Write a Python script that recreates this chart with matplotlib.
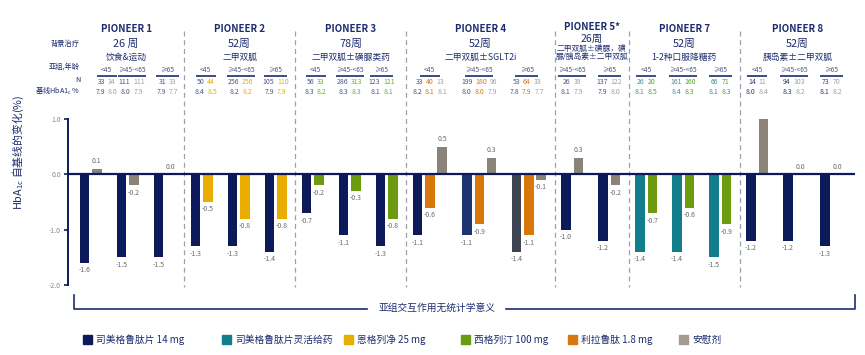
import matplotlib
matplotlib.use('Agg')
import matplotlib.pyplot as plt
from matplotlib.patches import Rectangle

plt.rcParams['font.family'] = ['Noto Sans CJK SC', 'DejaVu Sans']
plt.rcParams['mathtext.default'] = 'regular'
plt.rcParams['axes.unicode_minus'] = False

# ---------------- data ----------------
titles = ['PIONEER 1', 'PIONEER 2', 'PIONEER 3', 'PIONEER 4', 'PIONEER 5*', 'PIONEER 7', 'PIONEER 8']
weeks = ['26 周', '52周', '78周', '52周', '26周', '52周', '52周']
therapies = ['饮食&运动', '二甲双胍', '二甲双胍±磺脲类药', '二甲双胍±SGLT2i',
             '二甲双胍±磺脲，磺\n脲/胰岛素±二甲双胍', '1-2种口服降糖药', '胰岛素±二甲双胍']
ages3 = ['<45', '≥45-<65', '≥65']
ages2 = ['≥45-<65', '≥65']

p1_sema = [-1.6, -1.5, -1.5]
p1_placebo = [0.1, -0.2, 0.0]
p2_sema = [-1.3, -1.3, -1.4]
p2_empa = [-0.5, -0.8, -0.8]
p3_sema = [-0.7, -1.1, -1.3]
p3_sita = [-0.2, -0.3, -0.8]
p4_sema = [-1.1, -1.1, -1.4]
p4_lira = [-0.6, -0.9, -1.1]
p4_placebo = [0.5, 0.3, -0.1]
p5_sema = [-1.0, -1.2]
p5_placebo = [0.3, -0.2]
p7_flex = [-1.4, -1.4, -1.5]
p7_sita = [-0.7, -0.6, -0.9]
p8_sema = [-1.2, -1.2, -1.3]
p8_placebo = [1.1, 0.0, 0.0]

p1_n = [[33, 34], [111, 111], [31, 33]]
p1_base = [[7.9, 8.0], [8.0, 7.9], [7.9, 7.7]]
p2_n = [[50, 44], [256, 256], [105, 110]]
p2_base = [[8.4, 8.5], [8.2, 8.2], [7.9, 7.9]]
p3_n = [[56, 33], [286, 313], [123, 121]]
p3_base = [[8.3, 8.2], [8.3, 8.3], [8.1, 8.1]]
p4_n = [[33, 40, 13], [199, 180, 96], [53, 64, 33]]
p4_base = [[8.2, 8.1, 8.1], [8.0, 8.0, 7.9], [7.8, 7.9, 7.7]]
p5_n = [[26, 39], [137, 122]]
p5_base = [[8.1, 7.9], [7.9, 8.0]]
p7_n = [[26, 20], [161, 160], [66, 71]]
p7_base = [[8.1, 8.5], [8.4, 8.3], [8.1, 8.3]]
p8_n = [[14, 11], [94, 103], [73, 70]]
p8_base = [[8.0, 8.4], [8.3, 8.2], [8.1, 8.2]]

legend_labels = ['司美格鲁肽片 14 mg', '司美格鲁肽片灵活给药', '恩格列净 25 mg',
                 '西格列汀 100 mg', '利拉鲁肽 1.8 mg', '安慰剂']

# ---------------- styles ----------------
NAVY = '#0c1a5c'
TEAL = '#127d8b'
YELLOW = '#e8ad00'
GREEN = '#6d9b10'
ORANGE = '#d8770c'
GREY = '#8b8278'
SLATE = '#3d4452'
TXT = '#1d2c6e'
NUMGREY = '#a0a0a0'
LBL = '#6a6a6a'
legend_colors = [NAVY, TEAL, YELLOW, GREEN, ORANGE, '#a39a90']

panels = [
    dict(series=[(p1_sema, [NAVY]*3), (p1_placebo, [GREY]*3)], ages=ages3,
         n=p1_n, base=p1_base, ncol=['#4a5683', NUMGREY], hshift=[16, 4, 3]),
    dict(series=[(p2_sema, [NAVY]*3), (p2_empa, [YELLOW]*3)], ages=ages3,
         n=p2_n, base=p2_base, ncol=['#4a5683', YELLOW], hshift=[4, 2, 0]),
    dict(series=[(p3_sema, [NAVY]*3), (p3_sita, [GREEN]*3)], ages=ages3,
         n=p3_n, base=p3_base, ncol=['#4a5683', '#6fae2a'], hshift=[3, 0, -5]),
    dict(series=[(p4_sema, [NAVY, '#1b3470', SLATE]), (p4_lira, [ORANGE]*3), (p4_placebo, [GREY]*3)],
         ages=ages3, n=p4_n, base=p4_base, ncol=['#4a5683', ORANGE, NUMGREY], hshift=[0, 0, -2]),
    dict(series=[(p5_sema, [NAVY]*2), (p5_placebo, [GREY]*2)], ages=ages2,
         n=p5_n, base=p5_base, ncol=['#4a5683', NUMGREY], hshift=[0, 0]),
    dict(series=[(p7_flex, [TEAL]*3), (p7_sita, [GREEN]*3)], ages=ages3,
         n=p7_n, base=p7_base, ncol=['#4f8aa0', '#5aa02a'], hshift=[0, 0, 0]),
    dict(series=[(p8_sema, [NAVY]*3), (p8_placebo, [GREY]*3)], ages=ages3,
         n=p8_n, base=p8_base, ncol=['#2c3a70', NUMGREY], hshift=[0, 0, 0]),
]

W, H = 865, 355
fig = plt.figure(figsize=(W / 100, H / 100), dpi=100)

# overlay in pixel coordinates (y downwards)
ov = fig.add_axes([0, 0, 1, 1])
ov.set_xlim(0, W)
ov.set_ylim(H, 0)
ov.axis('off')

# chart axes: x in pixel units, y in data
X0, X1 = 68, 855
YTOP, YBOT = 119, 285
ax = fig.add_axes([X0 / W, (H - YBOT) / H, (X1 - X0) / W, (YBOT - YTOP) / H])
ax.set_xlim(X0, X1)
ax.set_ylim(-2, 1)
ax.patch.set_alpha(0)
for s in ['top', 'right', 'bottom']:
    ax.spines[s].set_visible(False)
ax.spines['left'].set_color(NAVY)
ax.spines['left'].set_linewidth(1.4)
ax.set_xticks([])
ax.set_yticks([1.0, 0.0, -1.0, -2.0])
ax.set_yticklabels(['1.0', '0.0', '-1.0', '-2.0'])
ax.tick_params(axis='y', colors=NAVY, length=3, width=1.2, labelsize=5, labelcolor='#888888', pad=2)
ax.axhline(0, color=NAVY, lw=1.6, zorder=3, xmin=0, xmax=1)

ov.text(18, 152, 'HbA$_{1c}$ 自基线的变化(%)', rotation=90, ha='center', va='center',
        fontsize=7.8, color=TXT)

renderer = fig.canvas.get_renderer()


def pieces(xc, y, items, fs, weight='normal'):
    """Draw a row of coloured strings centred at xc (pixel coords)."""
    gap = 3.0
    ts, widths = [], []
    for s, c in items:
        t = ov.text(0, y, s, fontsize=fs, color=c, ha='left', va='center', fontweight=weight)
        w = t.get_window_extent(renderer=renderer).width
        ts.append(t)
        widths.append(w)
    total = sum(widths) + gap * (len(items) - 1)
    x = xc - total / 2
    for t, w in zip(ts, widths):
        t.set_x(x)
        x += w + gap


PITCH = 12.3
BW = 9.5
x = 84.5
bounds = []
for pi, p in enumerate(panels):
    nb = len(p['series'])
    ng = len(p['series'][0][0])
    step = 37 if nb == 2 else 49.5
    first = x
    centers = []
    for g in range(ng):
        centers.append(x + (nb - 1) * PITCH / 2)
        for b, (vals, cols) in enumerate(p['series']):
            bc = ax.bar(x + b * PITCH, vals[g], width=BW, color=cols[g], zorder=2,
                        edgecolor='none')
            ax.bar_label(bc, labels=[f'{vals[g]:.1f}'], padding=2.5, fontsize=5, color=LBL)
        x += step
    last = centers[-1] + (nb - 1) * PITCH / 2
    bounds.append((first, last))

    # per-group header rows
    for g, c0 in enumerate(centers):
        c = c0 + p['hshift'][g]
        lab = p['ages'][g]
        ov.text(c, 70, lab, fontsize=4.8, color='#4a5683', ha='center', va='center')
        uw = 28 if '45-' in lab else (20 if lab == '<45' else 23)
        ov.plot([c - uw / 2, c + uw / 2], [75.5, 75.5], color=TXT, lw=1.2, solid_capstyle='butt')
        pieces(c, 81.5, [(str(v), p['ncol'][k]) for k, v in enumerate(p['n'][g])], 5)
        pieces(c, 91.5, [(f'{v:.1f}', p['ncol'][k]) for k, v in enumerate(p['base'][g])], 5)

# divider positions and panel centres
divs = []
for i in range(len(bounds) - 1):
    divs.append((bounds[i][1] + BW / 2 + bounds[i + 1][0] - BW / 2) / 2 + 1)
edges = [X0] + divs + [X1]
for d in divs:
    ov.plot([d, d], [31, 287], color='#9aa1ad', lw=0.9, ls=(0, (4, 3)))

for i in range(len(panels)):
    pc = (edges[i] + edges[i + 1]) / 2
    if titles[i].endswith('*'):
        ov.text(pc, 27.5, titles[i], fontsize=7, fontweight='bold', color=TXT, ha='center', va='center')
        ov.text(pc, 38.5, weeks[i], fontsize=7.5, color=TXT, ha='center', va='center')
        ov.text(pc, 53, therapies[i], fontsize=5.6, color=TXT, ha='center', va='center',
                linespacing=1.05)
    else:
        ov.text(pc, 28.5, titles[i], fontsize=7, fontweight='bold', color=TXT, ha='center', va='center')
        ov.text(pc, 43.5, weeks[i], fontsize=7.8, color=TXT, ha='center', va='center')
        ov.text(pc, 57.5, therapies[i], fontsize=6.3, color=TXT, ha='center', va='center')

# row labels
for yy, s in [(43.5, '背景治疗'), (67, '亚组,年龄'), (79.5, 'N'), (91, '基线HbA1$_{c}$ %')]:
    ov.text(80, yy, s, fontsize=5.2, color=TXT, ha='right', va='center')

# bracket
ov.plot([74, 74, 367], [295, 309, 309], color=TXT, lw=1.2)
ov.plot([506, 855, 855], [309, 309, 295], color=TXT, lw=1.2)
ov.text(437, 308, '亚组交互作用无统计学意义', fontsize=7, color=TXT, ha='center', va='center')

# legend
leg_x = [83, 222, 344, 461, 568, 679]
for lx, lab, col in zip(leg_x, legend_labels, legend_colors):
    ov.add_patch(Rectangle((lx, 335), 9, 9, color=col))
    ov.text(lx + 13, 339.5, lab, fontsize=7, color=TXT, ha='left', va='center')

fig.savefig('out.png', dpi=100)
